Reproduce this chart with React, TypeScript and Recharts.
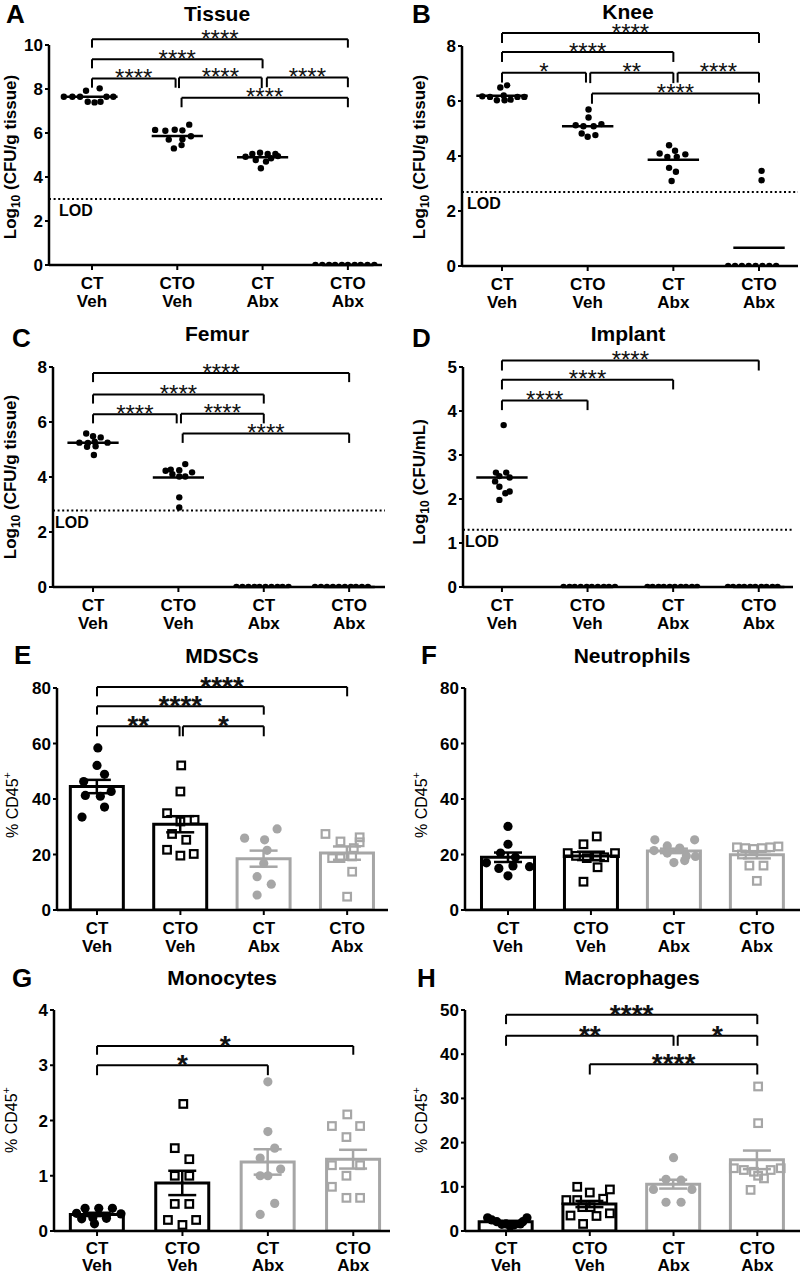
import React from 'react';
import { ComposedChart, Bar, Scatter, XAxis, YAxis, ReferenceLine, ErrorBar } from 'recharts';

const FONT = '"Liberation Sans", Arial, Helvetica, sans-serif';
const GRAY = '#a6a6a6';

// ---------- categories ----------
const groupTop = ['CT', 'CTO', 'CT', 'CTO'];
const groupBottom = ['Veh', 'Veh', 'Abx', 'Abx'];

// ---------- Panel A: Tissue (log10 CFU/g) [jitter, value] ----------
const tissueCTVeh = [[-0.33, 7.65], [-0.23, 7.65], [-0.14, 7.65], [-0.07, 7.92], [-0.05, 7.42], [0.03, 7.39], [0.09, 8.03], [0.1, 7.42], [0.17, 7.65], [0.25, 7.65]];
const tissueCTOVeh = [[-0.26, 6.14], [-0.14, 6.1], [-0.03, 6.15], [0.06, 6.12], [0.14, 6.38], [-0.1, 5.7], [0.06, 5.72], [0.16, 5.85], [-0.04, 5.3], [0.05, 5.45]];
const tissueCTAbx = [[-0.2, 4.92], [-0.12, 5.05], [-0.03, 5.1], [0.06, 5.05], [0.15, 5.05], [0.18, 4.95], [-0.08, 4.77], [0.04, 4.7], [-0.02, 4.4], [0.1, 4.85]];
const tissueCTOAbx = [[-0.38, 0], [-0.3, 0], [-0.22, 0], [-0.15, 0], [-0.07, 0], [0.0, 0], [0.08, 0], [0.15, 0], [0.23, 0], [0.31, 0]];
const tissueMeans = [7.65, 5.86, 4.9, 0];
const tissueLOD = 3.0;
const tissueSig = [
  { a: 0, b: 3, y: 10.26, d: 9.88, t: '****' },
  { a: 0, b: 2, y: 9.35, d: 8.94, t: '****' },
  { a: 0, b: 1, y: 8.48, d: 8.06, t: '****', rx: -0.02 },
  { a: 1, b: 2, y: 8.52, d: 8.04, t: '****', lx: 0.02, rx: -0.01 },
  { a: 2, b: 3, y: 8.52, d: 8.08, t: '****', lx: 0.05 },
  { a: 1, b: 3, y: 7.6, d: 7.17, t: '****', lx: 0.05 },
];

// ---------- Panel B: Knee ----------
const kneeCTVeh = [[-0.23, 6.17], [-0.14, 6.15], [-0.06, 6.03], [0.03, 6.03], [0.1, 6.05], [0.18, 6.15], [0.26, 6.15], [-0.02, 6.49], [0.06, 6.57], [0.02, 6.2]];
const kneeCTOVeh = [[0.01, 5.69], [0.01, 5.4], [-0.14, 5.12], [-0.05, 5.08], [0.07, 5.08], [0.16, 5.16], [-0.07, 4.82], [0.0, 4.7], [0.09, 4.76]];
const kneeCTAbx = [[-0.05, 4.39], [-0.16, 4.09], [-0.07, 3.97], [0.02, 4.19], [0.14, 4.06], [0.04, 3.97], [-0.05, 3.57], [0.03, 3.43], [-0.02, 3.09]];
const kneeCTOAbx = [[0.03, 3.46], [0.03, 3.12], [-0.36, 0], [-0.28, 0], [-0.2, 0], [-0.12, 0], [-0.04, 0], [0.04, 0], [0.12, 0], [0.2, 0]];
const kneeMeans = [6.19, 5.08, 3.86, 0.66];
const kneeLOD = 2.69;
const kneeSig = [
  { a: 0, b: 3, y: 8.47, d: 8.11, t: '****' },
  { a: 0, b: 2, y: 7.78, d: 7.42, t: '****' },
  { a: 0, b: 1, y: 7.03, d: 6.67, t: '*', rx: -0.02 },
  { a: 1, b: 2, y: 7.03, d: 6.65, t: '**', lx: 0.03 },
  { a: 2, b: 3, y: 7.03, d: 6.67, t: '****', lx: 0.05 },
  { a: 1, b: 3, y: 6.27, d: 5.9, t: '****', lx: 0.05 },
];

// ---------- Panel C: Femur ----------
const femurCTVeh = [[-0.08, 5.58], [0.0, 5.48], [0.09, 5.44], [-0.16, 5.25], [-0.06, 5.24], [0.02, 5.28], [0.17, 5.25], [-0.07, 5.1], [0.03, 5.12], [0.01, 4.8]];
const femurCTOVeh = [[-0.15, 4.23], [-0.09, 4.27], [0.01, 4.25], [0.08, 4.47], [0.16, 4.17], [-0.07, 4.1], [0.01, 4.02], [0.08, 4.02], [0.01, 3.26], [0.01, 2.89]];
const femurCTAbx = [[-0.32, 0], [-0.25, 0], [-0.18, 0], [-0.11, 0], [-0.05, 0], [0.02, 0], [0.09, 0], [0.16, 0], [0.22, 0], [0.29, 0]];
const femurCTOAbx = [[-0.4, 0], [-0.33, 0], [-0.26, 0], [-0.19, 0], [-0.12, 0], [-0.05, 0], [0.02, 0], [0.08, 0], [0.15, 0], [0.22, 0]];
const femurMeans = [5.25, 3.98, 0, 0];
const femurLOD = 2.78;
const femurSig = [
  { a: 0, b: 3, y: 7.78, d: 7.45, t: '****' },
  { a: 0, b: 2, y: 7.0, d: 6.67, t: '****' },
  { a: 0, b: 1, y: 6.28, d: 5.95, t: '****', rx: -0.02 },
  { a: 1, b: 2, y: 6.3, d: 5.95, t: '****', lx: 0.03 },
  { a: 1, b: 3, y: 5.58, d: 5.24, t: '****', lx: 0.05 },
];

// ---------- Panel D: Implant ----------
const implantCTVeh = [[0.02, 3.68], [-0.07, 2.6], [0.05, 2.6], [-0.03, 2.52], [0.09, 2.49], [-0.08, 2.4], [-0.03, 2.28], [0.09, 2.17], [0.04, 2.13], [-0.03, 1.98]];
const implantCTOVeh = [[-0.28, 0], [-0.21, 0], [-0.15, 0], [-0.08, 0], [-0.01, 0], [0.05, 0], [0.12, 0], [0.19, 0], [0.25, 0], [0.32, 0]];
const implantCTAbx = [[-0.3, 0], [-0.24, 0], [-0.17, 0], [-0.11, 0], [-0.04, 0], [0.02, 0], [0.09, 0], [0.15, 0], [0.22, 0], [0.28, 0]];
const implantCTOAbx = [[-0.36, 0], [-0.3, 0], [-0.23, 0], [-0.17, 0], [-0.1, 0], [-0.04, 0], [0.03, 0], [0.09, 0], [0.16, 0], [0.22, 0]];
const implantMeans = [2.49, 0, 0, 0];
const implantLOD = 1.3;
const implantSig = [
  { a: 0, b: 3, y: 5.15, d: 4.92, t: '****' },
  { a: 0, b: 2, y: 4.71, d: 4.49, t: '****' },
  { a: 0, b: 1, y: 4.24, d: 4.02, t: '****' },
];

// ---------- Panel E: MDSCs (% CD45+) ----------
const mdscCTVeh = [[0.01, 58.4], [0.0, 52.1], [0.09, 48.9], [-0.16, 46.3], [-0.14, 41.3], [0.04, 41], [0.17, 42.7], [0.09, 37.1], [-0.18, 33.5]];
const mdscCTOVeh = [[0.01, 52.1], [0.0, 42.7], [-0.16, 34.9], [0.0, 31.9], [0.17, 32.5], [-0.1, 27.4], [0.07, 25.3], [-0.16, 21.7], [0.0, 19.6], [0.16, 20.2]];
const mdscCTAbx = [[-0.23, 25.9], [0.01, 25.3], [0.16, 29.2], [0.0, 16.8], [-0.08, 12], [0.09, 9.3], [-0.08, 5.4], [0.04, 21.5]];
const mdscCTOAbx = [[-0.26, 27.4], [-0.08, 24.7], [0.15, 26.2], [0.15, 24.4], [0.08, 22.3], [-0.18, 18.7], [-0.08, 18.7], [0.06, 19.3], [0.06, 13.8], [0.0, 4.8]];
const mdscMean = [44.5, 30.9, 18.5, 20.5];
const mdscSem = [2.4, 2.9, 2.9, 2.4];
const mdscSig = [
  { a: 0, b: 3, y: 80.4, d: 77, t: '****' },
  { a: 0, b: 2, y: 73.4, d: 70.4, t: '****' },
  { a: 0, b: 1, y: 66.2, d: 62.6, t: '**', rx: -0.01 },
  { a: 1, b: 2, y: 66.2, d: 62.6, t: '*', lx: 0.03 },
];

// ---------- Panel F: Neutrophils ----------
const neutCTVeh = [[0.0, 30.1], [0.0, 23.7], [-0.09, 20.5], [0.09, 19], [-0.26, 17], [-0.11, 15], [0.06, 15.9], [0.26, 15.6], [0.0, 12.3]];
const neutCTOVeh = [[0.07, 26.5], [-0.09, 23.7], [-0.28, 20.5], [0.29, 20.5], [-0.05, 18.7], [0.07, 19.3], [0.08, 15.4], [-0.09, 10.2], [0.16, 19.0], [-0.18, 19.5]];
const neutCTAbx = [[-0.23, 25.3], [0.25, 25.3], [-0.08, 23.1], [0.07, 22.3], [-0.24, 21.4], [-0.08, 20.5], [0.15, 19.5], [0.26, 19.3], [0.0, 17.1], [0.13, 17.8]];
const neutCTOAbx = [[-0.24, 22.6], [-0.14, 22.3], [-0.04, 22.0], [0.06, 22.3], [0.16, 22.6], [0.26, 22.9], [-0.09, 16], [0.08, 16], [0.0, 10.5], [-0.18, 20]];
const neutMean = [19.0, 19.5, 21.3, 19.9];
const neutSem = [1.7, 1.5, 0.8, 1.3];

// ---------- Panel G: Monocytes ----------
const monoCTVeh = [[-0.24, 0.32], [-0.14, 0.41], [0.02, 0.41], [0.18, 0.41], [0.28, 0.31], [-0.18, 0.22], [-0.05, 0.24], [0.11, 0.23], [-0.03, 0.13]];
const monoCTOVeh = [[0.01, 2.3], [-0.09, 1.5], [0.08, 1.3], [-0.09, 1.0], [0.08, 1.0], [-0.09, 0.49], [0.08, 0.49], [-0.17, 0.2], [0.16, 0.2], [0.0, 0.11]];
const monoCTAbx = [[0.0, 2.7], [0.0, 1.8], [0.08, 1.5], [-0.09, 1.32], [-0.09, 1.0], [0.0, 1.0], [0.15, 1.12], [0.08, 0.5], [-0.09, 0.3]];
const monoCTOAbx = [[-0.07, 2.11], [-0.25, 1.9], [0.08, 1.9], [-0.08, 1.7], [-0.25, 1.19], [0.08, 1.19], [-0.08, 1.0], [-0.25, 0.8], [-0.08, 0.6], [0.08, 0.6]];
const monoMean = [0.3, 0.87, 1.25, 1.3];
const monoSem = [0.03, 0.22, 0.23, 0.17];
const monoSig = [
  { a: 0, b: 3, y: 3.35, d: 3.19, t: '*' },
  { a: 0, b: 2, y: 3.0, d: 2.82, t: '*' },
];

// ---------- Panel H: Macrophages ----------
const macroCTVeh = [[-0.22, 3.0], [-0.11, 2.1], [0.0, 1.6], [0.1, 1.4], [0.17, 1.6], [0.25, 3.0], [-0.17, 2.5], [0.05, 1.1], [0.2, 2.1], [-0.05, 1.5]];
const macroCTOVeh = [[-0.15, 10], [0.0, 8.7], [0.24, 9.4], [-0.28, 7.0], [-0.15, 7.0], [0.16, 7.3], [-0.09, 5.4], [0.01, 5.4], [-0.23, 3.5], [0.08, 3.4], [0.24, 4.0], [-0.08, 1.6]];
const macroCTAbx = [[0.0, 16.6], [-0.09, 11.7], [0.09, 11.5], [-0.24, 9.4], [0.22, 9.4], [-0.09, 6.5], [0.09, 6.5]];
const macroCTOAbx = [[0.01, 32.7], [0.01, 24.4], [-0.28, 14.2], [-0.16, 13.8], [-0.04, 13.4], [0.16, 13.8], [0.28, 14.2], [0.08, 11.9], [-0.08, 9.3], [0.01, 12.5]];
const macroMean = [2.1, 6.1, 10.6, 16.1];
const macroSem = [0.2, 0.7, 1.0, 2.1];
const macroSig = [
  { a: 0, b: 3, y: 48.9, d: 46.8, t: '****' },
  { a: 0, b: 2, y: 44.2, d: 41.9, t: '**' },
  { a: 2, b: 3, y: 44.2, d: 41.9, t: '*', lx: 0.05 },
  { a: 1, b: 3, y: 37.7, d: 35.4, t: '****' },
];

// ---------- helpers ----------
type Sig = { a: number; b: number; y: number; d: number; t: string; lx?: number; rx?: number };

const toPts = (arr: number[][], g: number) => arr.map(([dx, v]) => ({ x: g + dx, y: v }));

const barTable = (mean: number[], sem: number[]) =>
  mean.map((m, i) => ({
    x: i,
    mb: i < 2 ? m : null,
    eb: i < 2 ? sem[i] : null,
    mg: i >= 2 ? m : null,
    eg: i >= 2 ? sem[i] : null,
  }));

const mkGroupTick = (d1: number, d2: number) => (props: any) => {
  const { x, y, payload } = props;
  const i = Math.round(payload.value);
  return (
    <text x={x} y={y} textAnchor="middle" fontSize={17} fontWeight="bold" fill="#000" fontFamily={FONT}>
      <tspan x={x} dy={d1}>{groupTop[i]}</tspan>
      <tspan x={x} dy={d2}>{groupBottom[i]}</tspan>
    </text>
  );
};

const starLabel = (text: string, big: boolean) => (props: any) => {
  const vb = props.viewBox || { x: 0, y: 0, width: 0, height: 0 };
  return (
    <text
      x={vb.x + vb.width / 2}
      y={vb.y + (big ? 9 : 7.5)}
      textAnchor="middle"
      fontSize={big ? 28 : 24}
      fontWeight={big ? 'bold' : 'normal'}
      fill="#111"
      fontFamily={FONT}
    >
      {text}
    </text>
  );
};

const lodLabel = (dx: number) => (props: any) => {
  const vb = props.viewBox || { x: 0, y: 0 };
  return (
    <text x={vb.x + dx} y={vb.y + 17} fontSize={16} fontWeight="bold" fill="#000" fontFamily={FONT}>
      LOD
    </text>
  );
};

const sigElements = (list: Sig[], big: boolean, key: string) => {
  const out: React.ReactNode[] = [];
  list.forEach((s, i) => {
    const xa = s.a + (s.lx ?? 0);
    const xb = s.b + (s.rx ?? 0);
    const common = { stroke: '#000', strokeWidth: 2, ifOverflow: 'visible' as const };
    out.push(
      <ReferenceLine key={`${key}h${i}`} segment={[{ x: xa, y: s.y }, { x: xb, y: s.y }]} {...common} label={starLabel(s.t, big)} />
    );
    out.push(<ReferenceLine key={`${key}l${i}`} segment={[{ x: xa, y: s.y }, { x: xa, y: s.d }]} {...common} />);
    out.push(<ReferenceLine key={`${key}r${i}`} segment={[{ x: xb, y: s.y }, { x: xb, y: s.d }]} {...common} />);
  });
  return out;
};

const meanElements = (means: number[], key: string) =>
  means.map((m, i) => (
    <ReferenceLine
      key={`${key}m${i}`}
      segment={[{ x: i - 0.3, y: m }, { x: i + 0.3, y: m }]}
      stroke="#000"
      strokeWidth={2.5}
      ifOverflow="visible"
    />
  ));

const SmallDot = (p: any) => <circle cx={p.cx} cy={p.cy} r={3.2} fill="#000" />;
const mkCircle = (c: string) => (p: any) => <circle cx={p.cx} cy={p.cy} r={4.6} fill={c} />;
const mkSquare = (c: string) => (p: any) => (
  <rect x={p.cx - 3.8} y={p.cy - 3.8} width={7.6} height={7.6} fill="none" stroke={c} strokeWidth={2.2} />
);

type Cfg = {
  x0: number; x1: number; yTop: number; yBot: number; xMin: number; xMax: number; yMax: number; yTicks: number[];
  d1?: number; d2?: number;
};

const MT = 45;
const XH = 50;
const YW = 50;
const MR = 2;

function renderPanel(key: string, cfg: Cfg, content: React.ReactNode[], data: any[] = [], withBarAxis = false) {
  const width = cfg.x1 - cfg.x0 + YW + MR;
  const height = cfg.yBot - cfg.yTop + MT + XH;
  const Tick = mkGroupTick(cfg.d1 ?? 17, cfg.d2 ?? 17.5);
  return (
    <div key={key} style={{ position: 'absolute', left: cfg.x0 - YW, top: cfg.yTop - MT }}>
      <ComposedChart width={width} height={height} data={data} margin={{ top: MT, right: MR, bottom: 0, left: 0 }}>
        <XAxis
          type="number"
          dataKey="x"
          domain={[cfg.xMin, cfg.xMax]}
          ticks={[0, 1, 2, 3]}
          interval={0}
          allowDataOverflow
          height={XH}
          tick={Tick}
          tickSize={5}
          tickMargin={2}
          axisLine={{ stroke: '#000', strokeWidth: 2.5 }}
          tickLine={{ stroke: '#000', strokeWidth: 2 }}
        />
        {withBarAxis && (
          <XAxis
            xAxisId="bars"
            type="number"
            dataKey="x"
            domain={[cfg.xMin, cfg.xMax]}
            ticks={[0, 1, 2, 3]}
            allowDataOverflow
            hide
          />
        )}
        <YAxis
          type="number"
          domain={[0, cfg.yMax]}
          ticks={cfg.yTicks}
          interval={0}
          allowDataOverflow
          width={YW}
          tickSize={4}
          tickMargin={2}
          axisLine={{ stroke: '#000', strokeWidth: 2.5 }}
          tickLine={{ stroke: '#000', strokeWidth: 2 }}
          tick={{ fill: '#000', fontSize: 17, fontWeight: 'bold', fontFamily: FONT }}
        />
        {content}
      </ComposedChart>
    </div>
  );
}

function logPanel(key: string, cfg: Cfg, groups: number[][][], means: number[], lod: number, sig: Sig[], lodDx: number) {
  const pts = groups.flatMap((arr, g) => toPts(arr, g));
  const content: React.ReactNode[] = [
    <ReferenceLine
      key={`${key}lod`}
      y={lod}
      stroke="#000"
      strokeWidth={2}
      strokeDasharray="2 2.6"
      ifOverflow="visible"
      label={lodLabel(lodDx)}
    />,
    ...meanElements(means, key),
    <Scatter key={`${key}pts`} data={pts} dataKey="y" shape={SmallDot} isAnimationActive={false} />,
    ...sigElements(sig, false, key),
  ];
  return renderPanel(key, cfg, content);
}

function barPanel(key: string, cfg: Cfg, groups: number[][][], mean: number[], sem: number[], sig: Sig[]) {
  const shapes = [mkCircle('#000'), mkSquare('#000'), mkCircle(GRAY), mkSquare(GRAY)];
  const content: React.ReactNode[] = [
    <Bar key={`${key}bb`} xAxisId="bars" dataKey="mb" stackId="s" barSize={53} fill="#fff" stroke="#000" strokeWidth={3} isAnimationActive={false}>
      <ErrorBar dataKey="eb" width={14} stroke="#000" strokeWidth={2.5} direction="y" />
    </Bar>,
    <Bar key={`${key}bg`} xAxisId="bars" dataKey="mg" stackId="s" barSize={53} fill="#fff" stroke={GRAY} strokeWidth={3} isAnimationActive={false}>
      <ErrorBar dataKey="eg" width={14} stroke={GRAY} strokeWidth={2.5} direction="y" />
    </Bar>,
    ...groups.map((arr, g) => (
      <Scatter key={`${key}s${g}`} data={toPts(arr, g)} dataKey="y" shape={shapes[g]} isAnimationActive={false} />
    )),
    ...sigElements(sig, true, key),
  ];
  return renderPanel(key, cfg, content, barTable(mean, sem), true);
}

const cfgA: Cfg = { x0: 49, x1: 382, yTop: 45, yBot: 265, xMin: -0.504, xMax: 3.4, yMax: 10, yTicks: [0, 2, 4, 6, 8, 10] };
const cfgB: Cfg = { x0: 462, x1: 798, yTop: 46, yBot: 266, xMin: -0.467, xMax: 3.455, yMax: 8, yTicks: [0, 2, 4, 6, 8] };
const cfgC: Cfg = { x0: 53, x1: 385, yTop: 367, yBot: 587, xMin: -0.469, xMax: 3.42, yMax: 8, yTicks: [0, 2, 4, 6, 8] };
const cfgD: Cfg = { x0: 463, x1: 793, yTop: 367, yBot: 587, xMin: -0.455, xMax: 3.4, yMax: 5, yTicks: [0, 1, 2, 3, 4, 5] };
const cfgE: Cfg = { x0: 57, x1: 388, yTop: 688, yBot: 910, xMin: -0.48, xMax: 3.49, yMax: 80, yTicks: [0, 20, 40, 60, 80] };
const cfgF: Cfg = { x0: 465, x1: 800, yTop: 688, yBot: 910, xMin: -0.518, xMax: 3.52, yMax: 80, yTicks: [0, 20, 40, 60, 80] };
const cfgG: Cfg = { x0: 54, x1: 390, yTop: 1010, yBot: 1231, xMin: -0.504, xMax: 3.43, yMax: 4, yTicks: [0, 1, 2, 3, 4], d1: 16, d2: 16.5 };
const cfgH: Cfg = { x0: 465, x1: 800, yTop: 1010, yBot: 1231, xMin: -0.49, xMax: 3.51, yMax: 50, yTicks: [0, 10, 20, 30, 40, 50], d1: 16, d2: 16.5 };

const LogLabel = ({ x, y, unit }: { x: number; y: number; unit: string }) => (
  <text transform={`translate(${x},${y}) rotate(-90)`} textAnchor="middle" fontSize={17} fontWeight="bold" fill="#000" fontFamily={FONT}>
    Log<tspan fontSize={12} dy={4}>10</tspan>
    <tspan dy={-4}>{` (${unit})`}</tspan>
  </text>
);

const PctLabel = ({ x, y }: { x: number; y: number }) => (
  <text transform={`translate(${x},${y}) rotate(-90)`} textAnchor="middle" fontSize={16} fill="#000" fontFamily={FONT}>
    % CD45<tspan fontSize={11} dy={-7}>+</tspan>
  </text>
);

export default function App() {
  const letters: [string, number, number][] = [
    ['A', 6, 23], ['B', 412, 23], ['C', 12, 347], ['D', 412, 347],
    ['E', 14, 664], ['F', 421, 664], ['G', 12, 987], ['H', 417, 987],
  ];
  const titles: [string, number, number][] = [
    ['Tissue', 217, 13], ['Knee', 628, 11], ['Femur', 217, 333], ['Implant', 628, 333],
    ['MDSCs', 222, 655], ['Neutrophils', 632, 655], ['Monocytes', 222, 977], ['Macrophages', 632, 977],
  ];
  return (
    <div style={{ position: 'absolute', left: 0, top: 0, width: 800, height: 1274, overflow: 'hidden', background: '#fff', fontFamily: FONT }}>
      {logPanel('A', cfgA, [tissueCTVeh, tissueCTOVeh, tissueCTAbx, tissueCTOAbx], tissueMeans, tissueLOD, tissueSig, 10)}
      {logPanel('B', cfgB, [kneeCTVeh, kneeCTOVeh, kneeCTAbx, kneeCTOAbx], kneeMeans, kneeLOD, kneeSig, 5)}
      {logPanel('C', cfgC, [femurCTVeh, femurCTOVeh, femurCTAbx, femurCTOAbx], femurMeans, femurLOD, femurSig, 2)}
      {logPanel('D', cfgD, [implantCTVeh, implantCTOVeh, implantCTAbx, implantCTOAbx], implantMeans, implantLOD, implantSig, 2)}
      {barPanel('E', cfgE, [mdscCTVeh, mdscCTOVeh, mdscCTAbx, mdscCTOAbx], mdscMean, mdscSem, mdscSig)}
      {barPanel('F', cfgF, [neutCTVeh, neutCTOVeh, neutCTAbx, neutCTOAbx], neutMean, neutSem, [])}
      {barPanel('G', cfgG, [monoCTVeh, monoCTOVeh, monoCTAbx, monoCTOAbx], monoMean, monoSem, monoSig)}
      {barPanel('H', cfgH, [macroCTVeh, macroCTOVeh, macroCTAbx, macroCTOAbx], macroMean, macroSem, macroSig)}
      <svg width={800} height={1274} style={{ position: 'absolute', left: 0, top: 0, pointerEvents: 'none' }}>
        {letters.map(([t, x, y]) => (
          <text key={t} x={x} y={y} fontSize={26} fontWeight="bold" fill="#000" fontFamily={FONT}>{t}</text>
        ))}
        {titles.map(([t, x, y]) => (
          <text key={t} x={x} y={y + 7.5} textAnchor="middle" fontSize={21} fontWeight="bold" fill="#000" fontFamily={FONT}>{t}</text>
        ))}
        <LogLabel x={16} y={157} unit="CFU/g tissue" />
        <LogLabel x={425} y={157} unit="CFU/g tissue" />
        <LogLabel x={16} y={477} unit="CFU/g tissue" />
        <LogLabel x={425} y={482} unit="CFU/mL" />
        <PctLabel x={18} y={805} />
        <PctLabel x={427} y={805} />
        <PctLabel x={17} y={1120} />
        <PctLabel x={427} y={1120} />
      </svg>
    </div>
  );
}
